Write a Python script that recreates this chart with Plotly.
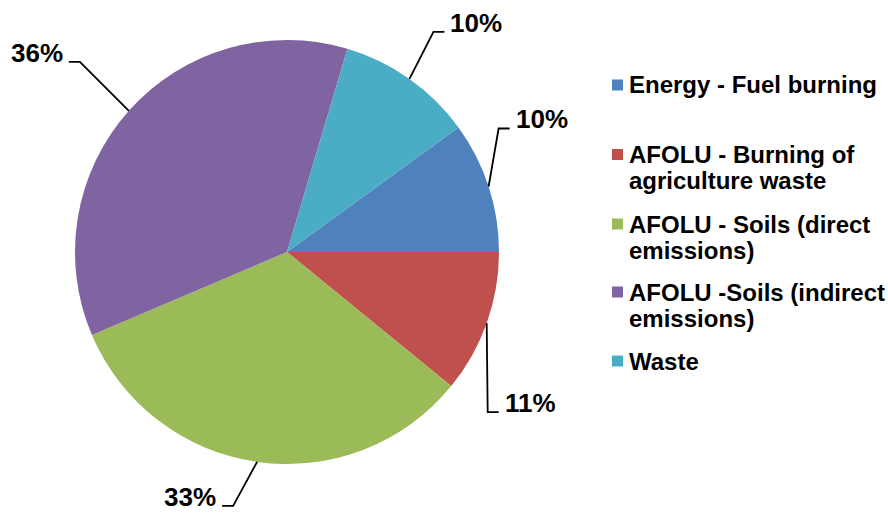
import math
import plotly.graph_objects as go

# ---- data ----
categories = [
    "Energy - Fuel burning",
    "AFOLU - Burning of<br>agriculture waste",
    "AFOLU - Soils (direct<br>emissions)",
    "AFOLU -Soils (indirect<br>emissions)",
    "Waste",
]
shares = [10.0, 10.9, 32.7, 36.0, 10.4]
colors = ["#4F81BD", "#C0504D", "#9BBB59", "#8064A2", "#4BACC6"]

# ---- layout / style ----
W, H = 888, 514
CX, CY, R = 287, 252, 212
ROT = 54
FONT = "Liberation Sans, Arial, sans-serif"
# leader-line elbow offsets (px) from the slice edge, and side of the label
elbow_off = [(10, -58), (1, 89), (-24, 44), (-49, -49), (24, -47)]
side = [1, 1, -1, -1, 1]
RUN = 11
# legend layout (px)
leg_sq_x = 612
leg_txt_x = 627
leg_y = [85, 154.5, 224, 292, 361]
LINE_H = 26


def px(x, y):
    return x / W, 1 - y / H


fig = go.Figure(
    go.Pie(
        labels=[c.replace("<br>", " ") for c in categories],
        values=shares,
        marker=dict(colors=colors, line=dict(width=0)),
        sort=False,
        direction="clockwise",
        rotation=ROT,
        textinfo="none",
        showlegend=False,
        domain=dict(x=[(CX - R) / W, (CX + R) / W], y=[1 - (CY + R) / H, 1 - (CY - R) / H]),
    )
)

shapes = []
annotations = []
total = sum(shares)
cum = 0.0
for i, v in enumerate(shares):
    theta = math.radians(ROT + 360 * (cum + v / 2) / total)
    cum += v
    ex, ey = CX + R * math.sin(theta), CY - R * math.cos(theta)
    bx, by = ex + elbow_off[i][0], ey + elbow_off[i][1]
    tx, ty = bx + RUN * side[i], by
    p = [px(ex, ey), px(bx, by), px(tx, ty)]
    shapes.append(dict(
        type="path", xref="paper", yref="paper",
        path="M {:.5f},{:.5f} L {:.5f},{:.5f} L {:.5f},{:.5f}".format(*p[0], *p[1], *p[2]),
        line=dict(color="black", width=1.8),
    ))
    lx, ly = px(tx + 4 * side[i], ty - 9)
    annotations.append(dict(
        x=lx, y=ly, xref="paper", yref="paper", showarrow=False,
        text=f"{round(100 * v / total)}%",
        xanchor="left" if side[i] > 0 else "right", yanchor="middle",
        font=dict(family=FONT, size=26, color="black", weight="bold"),
    ))

# manual legend
for i, c in enumerate(categories):
    y0 = leg_y[i]
    x0, yy0 = px(leg_sq_x, y0 - 5.5)
    x1, yy1 = px(leg_sq_x + 11, y0 + 5.5)
    shapes.append(dict(type="rect", xref="paper", yref="paper", x0=x0, x1=x1, y0=yy1, y1=yy0,
                       fillcolor=colors[i], line=dict(width=0)))
    for j, line in enumerate(c.split("<br>")):
        ax, ay = px(leg_txt_x, y0 + j * LINE_H)
        annotations.append(dict(
            x=ax, y=ay, xref="paper", yref="paper", showarrow=False, text=line,
            xanchor="left", yanchor="middle",
            font=dict(family=FONT, size=24, color="black", weight="bold"),
        ))

fig.update_layout(
    width=W, height=H,
    margin=dict(l=0, r=0, t=0, b=0),
    paper_bgcolor="white", plot_bgcolor="white",
    shapes=shapes, annotations=annotations,
    showlegend=False,
)

fig.write_html("out.html")
